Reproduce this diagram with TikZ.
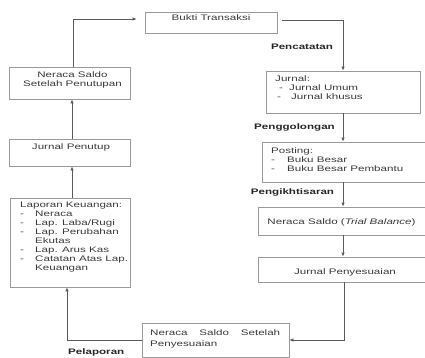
\documentclass[tikz,border=0pt]{standalone}
\usepackage{fontspec}
\setmainfont{Liberation Sans}[FakeStretch=1.45]
\usetikzlibrary{arrows.meta}
\definecolor{boxgray}{HTML}{9A9A9A}
\definecolor{linegray}{HTML}{5A5A5A}
\definecolor{txtc}{HTML}{3A3A3A}
\begin{document}
\begin{tikzpicture}[x=1pt,y=-1pt,
  box/.style={draw=boxgray, line width=0.8pt, inner sep=0pt, fill=white},
  conn/.style={draw=linegray, line width=0.8pt, -{Latex[length=4pt,width=3.5pt]}},
  txt/.style={inner sep=0pt, text=txtc, font=\fontsize{8}{9}\selectfont},
  lab/.style={inner sep=0pt, text=black!85, font=\fontsize{8}{9}\selectfont\bfseries}]
\useasboundingbox (0,0) rectangle (425,358);
\clip (0,0) rectangle (425,358);
\fill[white] (0,0) rectangle (425,358);
% boxes
\node[box, minimum width=132pt, minimum height=21pt] (bukti) at (211,22.5) {};
\node[box, minimum width=154pt, minimum height=42pt] (jurnal) at (343,92) {};
\node[box, minimum width=165pt, minimum height=40pt] (posting) at (344.5,162) {};
\node[box, minimum width=169pt, minimum height=28pt] (ntb) at (342.5,221) {};
\node[box, minimum width=169pt, minimum height=25pt] (jp) at (342.5,269.5) {};
\node[box, minimum width=147pt, minimum height=34pt] (nssp) at (215.5,340) {};
\node[box, minimum width=120pt, minimum height=89pt] (laporan) at (70,242.5) {};
\node[box, minimum width=121pt, minimum height=32pt] (nsspen) at (69.5,83) {};
\node[box, minimum width=121pt, minimum height=27pt] (jpen) at (69.5,152.5) {};
% texts
\node[txt] (bukti-t) at (211,17.5) {Bukti Transaksi};
\node[txt, align=left, anchor=north west] (jurnal-t) at (275,76) {Jurnal:\\
\hspace*{4pt}\makebox[10pt][l]{-}Jurnal Umum\\
\hspace*{2pt}\makebox[14pt][l]{-}Jurnal khusus};
\node[txt, align=left, anchor=north west] (posting-t) at (271,148) {Posting:\\
\makebox[16pt][l]{-}Buku Besar\\
\makebox[16pt][l]{-}Buku Besar Pembantu};
\node[txt] (ntb-t) at (341.5,222.5) {Neraca Saldo (\textit{Trial Balance})};
\node[txt] (jp-t) at (345,272) {Jurnal Penyesuaian};
\node[txt, align=left, anchor=north west, font=\fontsize{8}{11}\selectfont] (nssp-t) at (150,329) {\makebox[130pt][s]{Neraca\hfill Saldo\hfill Setelah}\\
Penyesuaian};
\node[txt, align=left, anchor=north west] (laporan-t) at (20,202) {Laporan Keuangan:\\
\makebox[15pt][l]{-}Neraca\\
\makebox[15pt][l]{-}Lap. Laba/Rugi\\
\makebox[15pt][l]{-}Lap. Perubahan\\
\hspace*{15pt}Ekutas\\
\makebox[15pt][l]{-}Lap. Arus Kas\\
\makebox[15pt][l]{-}Catatan Atas Lap.\\
\hspace*{15pt}Keuangan};
\node[txt, align=center, anchor=north] (nsspen-t) at (72.5,72) {Neraca Saldo\\Setelah Penutupan};
\node[txt] (jpen-t) at (71,147) {Jurnal Penutup};
% labels
\node[lab] (l1) at (302,47) {Pencatatan};
\node[lab] (l2) at (294.5,127) {Penggolongan};
\node[lab] (l3) at (292.5,192) {Pengikhtisaran};
\node[lab, anchor=west] (l4) at (68,352) {Pelaporan};
% connectors
\draw[conn] ([shift={(5,-2.5)}]bukti.east) -| (jurnal.north);
\draw[conn] (jurnal.south) -- (jurnal.south |- posting.north);
\draw[conn] (jurnal.south |- posting.south) -- (jurnal.south |- ntb.north);
\draw[conn] (jurnal.south |- ntb.south) -- (jurnal.south |- jp.north);
\draw[conn] ([xshift=1pt]jurnal.south |- jp.south) |- (nssp.east);
\draw[conn] (nssp.west) -| ([xshift=-3pt]laporan.south);
\draw[conn] ([xshift=2pt]laporan.north) -- ([xshift=2pt]laporan.north |- jpen.south);
\draw[conn] ([xshift=2.5pt]jpen.north) -- ([xshift=2.5pt]jpen.north |- nsspen.south);
\draw[conn] ([xshift=3.5pt]nsspen.north) |- ([shift={(-8,-3.5)}]bukti.west);
\end{tikzpicture}
\end{document}
